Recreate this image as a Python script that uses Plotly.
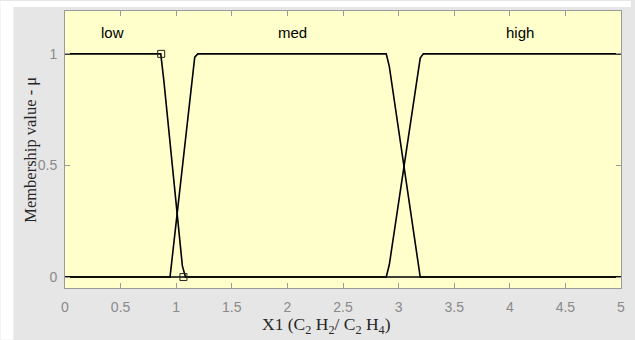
import plotly.graph_objects as go

low_x = [0.0, 0.8611, 0.8889, 0.9167, 0.9444, 0.9722, 1.0, 1.0278, 1.0556, 1.0833, 5.0]
low_y = [1.0, 1.0, 0.88, 0.74, 0.60, 0.46, 0.33, 0.19, 0.05, 0.0, 0.0]

med_x = [0.0, 0.9444, 0.9722, 1.0, 1.0278, 1.0556, 1.0833, 1.1111, 1.1389, 1.1667, 1.1944,
         2.8889, 2.9167, 2.9444, 2.9722, 3.0, 3.0278, 3.0556, 3.0833, 3.1111, 3.1389, 3.1667, 3.1944, 5.0]
med_y = [0.0, 0.0, 0.123, 0.247, 0.37, 0.494, 0.617, 0.741, 0.864, 0.985, 1.0,
         1.0, 0.943, 0.847, 0.751, 0.655, 0.559, 0.464, 0.368, 0.272, 0.176, 0.08, 0.0, 0.0]

high_x = [0.0, 2.8889, 2.9167, 2.9444, 2.9722, 3.0, 3.0278, 3.0556, 3.0833, 3.1111, 3.1389, 3.1667, 3.1944, 3.2222, 5.0]
high_y = [0.0, 0.0, 0.056, 0.148, 0.241, 0.333, 0.426, 0.519, 0.611, 0.704, 0.796, 0.889, 0.981, 1.0, 1.0]

marker_x = [0.865, 1.065]
marker_y = [1.0, 0.0]

mf_names = ["low", "med", "high"]
mf_label_x = [0.43, 2.045, 4.09]
mf_label_y = [1.094, 1.094, 1.094]

x_ticks = [0, 0.5, 1, 1.5, 2, 2.5, 3, 3.5, 4, 4.5, 5]
x_ticktext = ["0", "0.5", "1", "1.5", "2", "2.5", "3", "3.5", "4", "4.5", "5"]
y_ticks = [0, 0.5, 1]
y_ticktext = ["0", "0.5", "1"]

W, H = 635, 340
L, R, T, B = 65, 10, 10, 52
pw, ph = W - L - R, H - T - B

fig = go.Figure()
line_style = dict(color="black", width=1.6)
for xs, ys in [(low_x, low_y), (med_x, med_y), (high_x, high_y)]:
    fig.add_trace(go.Scatter(x=xs, y=ys, mode="lines", line=line_style, hoverinfo="skip"))

fig.add_trace(go.Scatter(x=marker_x, y=marker_y, mode="markers",
                         marker=dict(symbol="square-open", size=7, color="#222",
                                     line=dict(width=1, color="#222")),
                         hoverinfo="skip"))

for name, lx, ly in zip(mf_names, mf_label_x, mf_label_y):
    fig.add_annotation(x=lx, y=ly, text=name, showarrow=False,
                       font=dict(family="Liberation Sans, Arial", size=15, color="black"))

# axis titles
fig.add_annotation(xref="paper", yref="paper", x=(328 - L) / pw, y=-(326 - (H - B)) / ph,
                   text="X1 (C<sub>2</sub> H<sub>2</sub>/ C<sub>2</sub> H<sub>4</sub>)",
                   showarrow=False, xanchor="center", yanchor="middle",
                   font=dict(family="Liberation Serif, Times New Roman", size=17.5, color="#262626"))
fig.add_annotation(xref="paper", yref="paper", x=(30 - L) / pw, y=0.5,
                   text="Membership value - μ", textangle=-90,
                   showarrow=False, xanchor="center", yanchor="middle",
                   font=dict(family="Liberation Serif, Times New Roman", size=16.5, color="#262626"))

# white strips at top and left
def px_x(p):
    return (p - L) / pw

def px_y(p):
    return (H - B - p) / ph

fig.add_shape(type="rect", xref="paper", yref="paper", x0=px_x(0), x1=px_x(13), y0=px_y(H), y1=px_y(0),
              fillcolor="white", line=dict(width=0), layer="above")
fig.add_shape(type="rect", xref="paper", yref="paper", x0=px_x(0), x1=px_x(W), y0=px_y(6), y1=px_y(0),
              fillcolor="white", line=dict(width=0), layer="above")

axis_common = dict(showgrid=False, zeroline=False, showline=True, linecolor="#9a9a9a", linewidth=1,
                   mirror="ticks", ticks="inside", ticklen=5, tickcolor="#9a9a9a", tickwidth=1,
                   tickfont=dict(family="Liberation Sans, Arial", size=14, color="#8a8a8a"))

fig.update_xaxes(range=[0, 5], tickvals=x_ticks, ticktext=x_ticktext, ticklabelstandoff=6, **axis_common)
fig.update_yaxes(range=[-0.049, 1.192], tickvals=y_ticks, ticktext=y_ticktext, ticklabelstandoff=4, **axis_common)

fig.update_layout(width=W, height=H, margin=dict(l=L, r=R, t=T, b=B),
                  paper_bgcolor="#e6e6e6", plot_bgcolor="#ffffcc", showlegend=False)

fig.write_html("out.html", config={"displayModeBar": False},
               post_script="document.body.style.margin='0';document.body.style.overflow='hidden';")
